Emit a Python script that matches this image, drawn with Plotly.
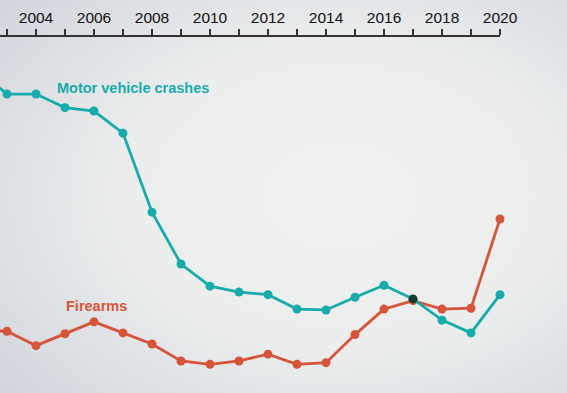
import base64
import plotly.graph_objects as go

# Data (rates per 100k)
years = list(range(2002, 2021))
motor_vehicle = [7.15, 6.87, 6.87, 6.71, 6.67, 6.41, 5.48, 4.87, 4.61, 4.54, 4.51, 4.34, 4.33, 4.48, 4.62, 4.46, 4.21, 4.06, 4.51]
firearms = [4.09, 4.08, 3.91, 4.05, 4.19, 4.06, 3.93, 3.73, 3.69, 3.73, 3.81, 3.69, 3.71, 4.04, 4.34, 4.44, 4.34, 4.35, 5.40]
tick_years = list(range(2002, 2021))
tick_labels = [str(y) if y % 2 == 0 else "" for y in tick_years]

teal = "#17abab"
orange = "#d6553a"

svg = """<svg xmlns='http://www.w3.org/2000/svg' width='567' height='393' preserveAspectRatio='none'>
<defs><radialGradient id='g' cx='0.6' cy='0.5' r='0.75' gradientUnits='objectBoundingBox'>
<stop offset='0' stop-color='#f0f1f1'/><stop offset='0.5' stop-color='#eceeee'/>
<stop offset='1' stop-color='#d3d6dd'/></radialGradient></defs>
<rect width='567' height='393' fill='url(#g)'/></svg>"""
bg = "data:image/svg+xml;base64," + base64.b64encode(svg.encode()).decode()

mv_colors = [teal] * len(years)
mv_colors[years.index(2017)] = "#123d2e"

fig = go.Figure()
fig.add_trace(go.Scatter(x=years, y=firearms, mode="lines+markers",
                         line=dict(color=orange, width=2.8),
                         marker=dict(color=orange, size=9), cliponaxis=False,
                         hoverinfo="skip"))
fig.add_trace(go.Scatter(x=years, y=motor_vehicle, mode="lines+markers",
                         line=dict(color=teal, width=2.8),
                         marker=dict(color=mv_colors, size=9), cliponaxis=False,
                         hoverinfo="skip"))

fig.add_annotation(x=2007.34, y=6.94, text="<b>Motor vehicle crashes</b>", showarrow=False,
                   font=dict(family="Liberation Sans, Arial", size=14.5, color=teal), xanchor="center")
fig.add_annotation(x=2006.07, y=4.38, text="<b>Firearms</b>", showarrow=False,
                   font=dict(family="Liberation Sans, Arial", size=14.5, color=orange), xanchor="center")

fig.update_layout(
    width=567, height=393,
    margin=dict(l=0, r=67, t=37, b=0, autoexpand=False),
    paper_bgcolor="rgba(0,0,0,0)", plot_bgcolor="rgba(0,0,0,0)",
    showlegend=False,
    images=[dict(source=bg, xref="paper", yref="paper", x=0, y=1 + 37/356, sizex=567/500, sizey=393/356,
                 xanchor="left", yanchor="top", sizing="stretch", layer="below")],
    xaxis=dict(side="top", range=[2002.759, 2020], tickvals=tick_years, ticktext=tick_labels,
               ticks="outside", ticklen=6, tickwidth=1.5, tickcolor="#333",
               showline=True, linecolor="#333", linewidth=2, showgrid=False, zeroline=False,
               ticklabelstandoff=0,
               tickfont=dict(family="Liberation Sans, Arial", size=15.5, color="#111")),
    yaxis=dict(range=[3.353, 7.541], visible=False, showgrid=False, zeroline=False),
)
fig.write_html("out.html", config={"displayModeBar": False},
               post_script="document.body.style.margin='0';document.body.style.background='#e4e6e8';")
